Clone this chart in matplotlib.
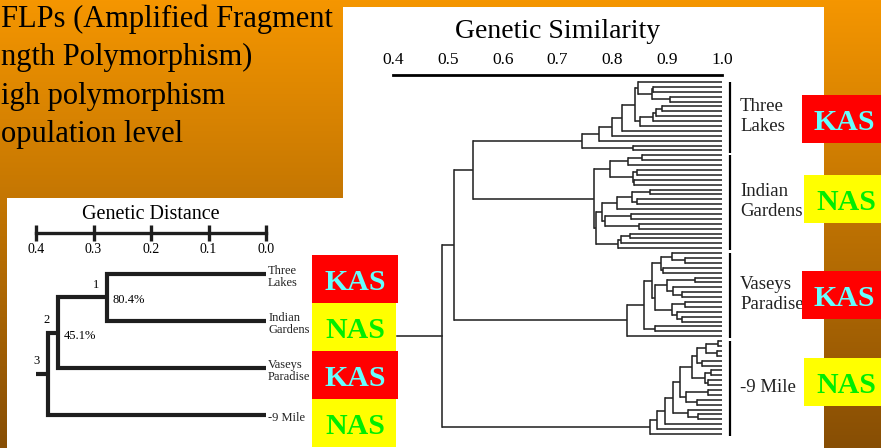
import numpy as np
import matplotlib
matplotlib.use("Agg")
import matplotlib.pyplot as plt
from matplotlib.patches import Rectangle

plt.rcParams['font.family'] = ['Liberation Serif', 'DejaVu Serif']

# ---------------- data ----------------
slide_lines = ["FLPs (Amplified Fragment", "ngth Polymorphism)", "igh polymorphism", "opulation level"]

# Large dendrogram (genetic similarity), one Newick-like string per population
group_names = ["Three\nLakes", "Indian\nGardens", "Vaseys\nParadise", "-9 Mile"]
group_newick = [
    "((((((x,((x,x)0.875,(x,x)0.905)0.872)0.847,((((x,x)0.89,x)0.88,x)0.875,x)0.85)0.841,x)0.817,x)0.80,x)0.776,(x,x)0.838)0.744",
    "((((x,x)0.855,x)0.829,((x,x)0.845,(x,x)0.84)0.837)0.796,(((((x,x)0.869,(x,x)0.845)0.835,x)0.808,((x,x)0.834,(x,x)0.848)0.786)0.781,(((x,x)0.832,x)0.816,x)0.811)0.771)0.767",
    "(((((x,(x,x)0.932)0.908,(x,x)0.893)0.889,(((x,x)0.951,(x,(x,x)0.927)0.91)0.899,((x,x)0.933,(x,(x,x)0.927)0.918)0.908)0.878)0.872,(x,x)0.877)0.857,x)0.826",
    "(((((((((x,x)0.993,(x,x)0.99)0.97,(x,x)0.963)0.954,((x,x)0.98,(x,x)0.975)0.969)0.945,((x,x)0.975,(x,x)0.955)0.935)0.923,(x,(x,x)0.956)0.938)0.911,x)0.896,x)0.881,x)0.869",
]
join_heights = [0.546, 0.511, 0.489]   # (TL,IG) -> +VP -> +NM
root_stub_sim = 0.407
sim_ticks = [0.4, 0.5, 0.6, 0.7, 0.8, 0.9, 1.0]

# Small dendrogram (genetic distance)
small_leaves = ["Three\nLakes", "Indian\nGardens", "Vaseys\nParadise", "-9 Mile"]
small_merge_a = [0, 4, 5]
small_merge_b = [1, 2, 3]
small_merge_dist = [0.277, 0.362, 0.379]
small_node_num = ["1", "2", "3"]
small_node_support = ["80.4%", "45.1%", ""]
small_root_stub = 0.405
dist_ticks = [0.4, 0.3, 0.2, 0.1, 0.0]

box_labels = ["KAS", "NAS", "KAS", "NAS"]
box_fill = {"KAS": "#ff0000", "NAS": "#ffff00"}
box_text = {"KAS": "#66ffff", "NAS": "#00ee00"}

# ---------------- helpers ----------------
W, H, DPI = 881, 448, 100
fig = plt.figure(figsize=(W / DPI, H / DPI), dpi=DPI)


def axes_px(x0, y0, x1, y1, **kw):
    return fig.add_axes([x0 / W, 1 - y1 / H, (x1 - x0) / W, (y1 - y0) / H], **kw)


def parse(s):
    pos = 0

    def node():
        nonlocal pos
        if s[pos] == '(':
            pos += 1
            ch = [node()]
            while s[pos] == ',':
                pos += 1
                ch.append(node())
            assert s[pos] == ')'
            pos += 1
            st = pos
            while pos < len(s) and s[pos] not in ',)':
                pos += 1
            return (float(s[st:pos]), ch)
        st = pos
        while pos < len(s) and s[pos] not in ',)':
            pos += 1
        return s[st:pos]
    return node()


# ---------------- background ----------------
bg = fig.add_axes([0, 0, 1, 1], zorder=0)
bg.set_xlim(0, W); bg.set_ylim(H, 0); bg.axis('off')
c0 = np.array([245, 150, 0]) / 255
c1 = np.array([135, 78, 5]) / 255
g = np.linspace(0, 1, 256)[:, None, None]
bg.imshow(c0 + (c1 - c0) * g, extent=(0, W, H, 0), aspect='auto')
bg.add_patch(Rectangle((343, 7), 481, 441, fc='white', ec='none'))
bg.add_patch(Rectangle((7, 198), 336, 250, fc='white', ec='none'))
for i, t in enumerate(slide_lines):
    bg.text(1, 27 + 38.3 * i, t, fontsize=22, va='baseline', ha='left', color='black')

# ---------------- large dendrogram ----------------
full = "(((" + group_newick[0] + "," + group_newick[1] + ")%g," % join_heights[0] + \
       group_newick[2] + ")%g," % join_heights[1] + group_newick[3] + ")%g" % join_heights[2]
tree = parse(full)
group_sizes = [sum(1 for c in gs if c == 'x') for gs in group_newick]
N = sum(group_sizes)

ax = axes_px(393, 75, 722, 438, zorder=2)
ax.patch.set_visible(False)
ax.set_xlim(0.4, 1.0)
ax.set_ylim(N - 1 + 0.82, -1.43)
for s in ['left', 'right', 'bottom']:
    ax.spines[s].set_visible(False)
ax.spines['top'].set_linewidth(2.0)
ax.set_yticks([])
ax.set_xticks(sim_ticks)
ax.set_xticklabels(["%.1f" % v for v in sim_ticks])
ax.tick_params(axis='x', top=True, bottom=False, labeltop=True, labelbottom=False,
               length=0, pad=5, labelsize=12.5)
ax.annotate("Genetic Similarity", xy=(0.5, 1), xycoords='axes fraction', xytext=(0, 26.5),
            textcoords='offset points', ha='center', va='baseline', fontsize=20)

counter = [0]
LC = '#262626'


def draw(nd, axx, leaf_x, lw):
    if isinstance(nd, str):
        y = counter[0]
        counter[0] += 1
        return leaf_x, y
    h, ch = nd
    pts = [draw(c, axx, leaf_x, lw) for c in ch]
    ys = [p[1] for p in pts]
    for (cx, cy) in pts:
        axx.plot([h, cx], [cy, cy], color=LC, lw=lw, solid_capstyle='butt')
    axx.plot([h, h], [min(ys), max(ys)], color=LC, lw=lw, solid_capstyle='projecting')
    return h, float(np.mean(ys))


rx, ry = draw(tree, ax, 1.0, 1.15)
ax.plot([root_stub_sim, rx], [ry, ry], color=LC, lw=1.15)

bar_x = 0.4 + (730 - 393) / 548.3
lab_x = 0.4 + (740 - 393) / 548.3
start = 0
for name, n in zip(group_names, group_sizes):
    ax.plot([bar_x, bar_x], [start - 0.1, start + n - 1 + 0.45], color='black', lw=1.6,
            clip_on=False, solid_capstyle='butt')
    ax.text(lab_x, start + (n - 1) / 2, name, fontsize=13.5, va='center', ha='left',
            color='#222222', clip_on=False)
    start += n

# ---------------- small dendrogram ----------------
sax = axes_px(36, 232, 266, 233, zorder=2)
sax.patch.set_visible(False)
sax.set_xlim(0.4, 0.0); sax.set_ylim(0, 1)
for s in ['left', 'right', 'top']:
    sax.spines[s].set_visible(False)
sax.spines['bottom'].set_linewidth(2.4)
sax.spines['bottom'].set_color('#1e1e1e')
sax.set_yticks([])
sax.set_xticks(dist_ticks)
sax.set_xticklabels(["%.1f" % v for v in dist_ticks])
sax.tick_params(axis='x', direction='inout', length=11.5, width=2.4, pad=1.5, labelsize=10,
                color='#1e1e1e')
sax.annotate("Genetic Distance", xy=(0.5, 0), xycoords='axes fraction', xytext=(0, 10),
             textcoords='offset points', ha='center', va='baseline', fontsize=14.5)

tax = axes_px(36, 240, 266, 440, zorder=2)
tax.patch.set_visible(False)
tax.set_xlim(0.4, 0.0); tax.set_ylim(3.532, -0.723); tax.axis('off')
SLC = '#1e1e1e'
pos = {i: (0.0, float(i)) for i in range(len(small_leaves))}
for k, (a, b, d) in enumerate(zip(small_merge_a, small_merge_b, small_merge_dist)):
    (ax_, ay), (bx, by) = pos[a], pos[b]
    tax.plot([ax_, d, d, bx], [ay, ay, by, by], color=SLC, lw=3.0,
             solid_joinstyle='miter', solid_capstyle='butt')
    ny = (ay + by) / 2
    pos[len(small_leaves) + k] = (d, ny)
    tax.annotate(small_node_num[k], xy=(d, ny), xytext=(-8, 9), textcoords='offset points',
                 ha='center', va='center', fontsize=9)
    if small_node_support[k]:
        tax.annotate(small_node_support[k], xy=(d, ny), xytext=(4.5, -2), textcoords='offset points',
                     ha='left', va='center', fontsize=9)
rootx, rooty = pos[len(pos) - 1]
tax.plot([small_root_stub, rootx], [rooty, rooty], color=SLC, lw=3.0, solid_capstyle='butt')
for i, name in enumerate(small_leaves):
    tax.annotate(name, xy=(0.0, i), xytext=(1.5, -2), textcoords='offset points',
                 ha='left', va='center', fontsize=9, linespacing=1.05, color='#222222')

# ---------------- KAS / NAS boxes ----------------
fg = fig.add_axes([0, 0, 1, 1], zorder=10)
fg.patch.set_visible(False)
fg.set_xlim(0, W); fg.set_ylim(H, 0); fg.axis('off')
right_tops = [95, 175, 271, 358]
left_tops = [255, 303, 351, 399]
for lab, rt, lt in zip(box_labels, right_tops, left_tops):
    rx0 = 802 if lab == "KAS" else 804
    lw_ = 86 if lab == "KAS" else 84
    fg.add_patch(Rectangle((rx0, rt), 882 - rx0, 48, fc=box_fill[lab], ec='none'))
    fg.text(rx0 + 42, rt + 35, lab, color=box_text[lab], fontsize=21.5, fontweight='bold',
            ha='center', va='baseline')
    fg.add_patch(Rectangle((312, lt), lw_, 48, fc=box_fill[lab], ec='none'))
    fg.text(312 + 43, lt + 35, lab, color=box_text[lab], fontsize=21.5, fontweight='bold',
            ha='center', va='baseline')

fig.savefig("out.png", dpi=DPI)
